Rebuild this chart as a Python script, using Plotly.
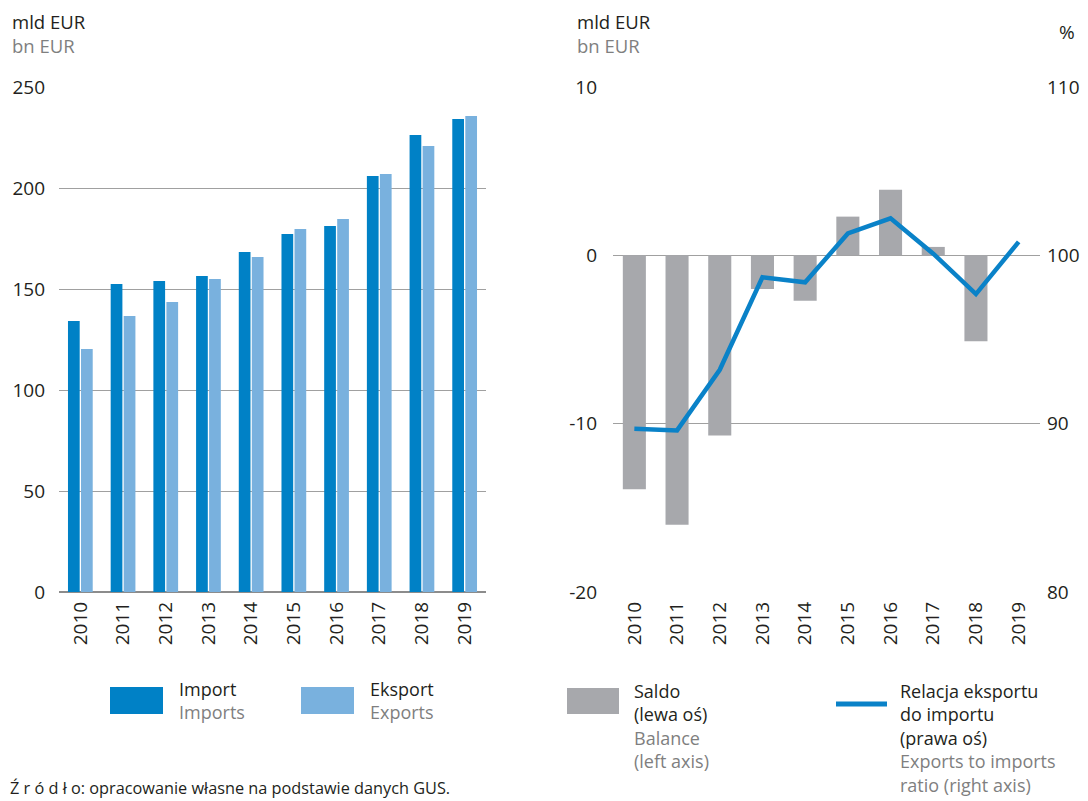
import plotly.graph_objects as go

years = ["2010", "2011", "2012", "2013", "2014", "2015", "2016", "2017", "2018", "2019"]
imports = [134.2, 152.5, 154.0, 156.4, 168.3, 177.2, 181.2, 205.9, 226.2, 234.2]
exports = [120.3, 136.6, 143.6, 155.0, 165.8, 179.7, 184.7, 206.9, 220.8, 235.6]
balance = [-13.9, -16.0, -10.7, -2.0, -2.7, 2.3, 3.9, 0.5, -5.1, None]
ratio = [89.7, 89.6, 93.2, 98.7, 98.4, 101.3, 102.2, 100.1, 97.7, 100.8]

left_ticks = [0, 50, 100, 150, 200, 250]
bal_ticks = [-20, -10, 0, 10]
bal_labels = ["-20", "-10", "0", "10"]
ratio_ticks = [80, 90, 100, 110]

C_IMP = "#0081C6"
C_EXP = "#79B1DE"
C_BAL = "#A7A8AC"
C_LINE = "#0A82C8"
DARK = "#231F20"
GRAY = "#7F7F7F"
GRID = "#A0A0A0"
FONT = "Open Sans"

# page body has an 8px margin: figure is drawn 8px smaller and offset
OFF = 8
W, H = 1088 - OFF, 801 - OFF

def fx(x):
    return (x - OFF) / W

def fy(y):
    return 1 - (y - OFF) / H

fig = go.Figure()
fig.add_trace(go.Bar(x=years, y=imports, marker_color=C_IMP, xaxis="x", yaxis="y",
                     name="Import", showlegend=False))
fig.add_trace(go.Bar(x=years, y=exports, marker_color=C_EXP, xaxis="x", yaxis="y",
                     name="Eksport", showlegend=False))
fig.add_trace(go.Bar(x=years, y=balance, marker_color=C_BAL, xaxis="x2", yaxis="y2",
                     width=0.54, name="Saldo", showlegend=False))
fig.add_trace(go.Scatter(x=years, y=ratio, mode="lines", xaxis="x2", yaxis="y3",
                         line=dict(color=C_LINE, width=4.5), name="Relacja",
                         showlegend=False))

ydom = [fy(592), fy(87)]
tickfont = dict(family=FONT, size=19, color=DARK)

fig.update_layout(
    template="none",
    width=W, height=H,
    margin=dict(l=0, r=0, t=0, b=0, pad=0, autoexpand=False),
    paper_bgcolor="white", plot_bgcolor="white",
    showlegend=False,
    barmode="group", bargap=0.39, bargroupgap=0.1,
    font=dict(family=FONT, color=DARK),
    xaxis=dict(domain=[fx(59), fx(486)], anchor="y", type="category",
               tickangle=-90, tickfont=tickfont, showgrid=False, ticks="",
               showline=False, ticklabelstandoff=5, automargin=False),
    yaxis=dict(domain=ydom, anchor="x", range=[0, 250], tickvals=left_ticks,
               showgrid=True, gridcolor=GRID, gridwidth=1, zeroline=True,
               zerolinecolor="#8C8C8C", zerolinewidth=1.5, tickfont=tickfont,
               ticks="", ticklabelstandoff=13, automargin=False),
    xaxis2=dict(domain=[fx(613), fx(1040)], anchor="y2", type="category",
                tickangle=-90, tickfont=tickfont, showgrid=False, ticks="",
                showline=False, ticklabelstandoff=5, automargin=False),
    yaxis2=dict(domain=ydom, anchor="x2", range=[-20, 10], tickvals=bal_ticks,
                ticktext=bal_labels,
                showgrid=True, gridcolor=GRID, gridwidth=1, zeroline=True,
                zerolinecolor=GRID, zerolinewidth=1, tickfont=tickfont,
                ticks="", ticklabelstandoff=15, automargin=False),
    yaxis3=dict(overlaying="y2", anchor="x2", side="right", range=[80, 110],
                tickvals=ratio_ticks, showgrid=False, zeroline=False,
                tickfont=tickfont, ticks="", ticklabelstandoff=6, automargin=False),
)

annos = []
def text(x, y, s, color=DARK, size=19, anchor="left"):
    annos.append(dict(x=fx(x), y=fy(y), xref="paper", yref="paper", text=s,
                      showarrow=False, xanchor=anchor, yanchor="middle", align="left",
                      font=dict(family=FONT, size=size, color=color)))

def block(x, yc, lines, size=18):
    s = "<br>".join(f"<span style='color:{c}'>{t}</span>" for t, c in lines)
    text(x, yc, s, DARK, size)

# axis unit titles
block(10, 33.5, [("mld EUR", DARK), ("bn EUR", GRAY)], size=18.5)
block(575, 33.5, [("mld EUR", DARK), ("bn EUR", GRAY)], size=18.5)
text(1077, 32, "%", anchor="right", size=19)

# legend left
block(177, 700, [("Import", DARK), ("Imports", GRAY)])
block(368, 700, [("Eksport", DARK), ("Exports", GRAY)])

# legend right
block(632, 726, [("Saldo", DARK), ("(lewa oś)", DARK), ("Balance", GRAY),
                 ("(left axis)", GRAY)])
block(898, 738, [("Relacja eksportu", DARK), ("do importu", DARK),
                 ("(prawa oś)", DARK), ("Exports to imports", GRAY),
                 ("ratio (right axis)", GRAY)])

# source
text(8, 788, "Ź r ó d ł o: opracowanie własne na podstawie danych GUS.", DARK, 16.3)

shapes = []
def rect(x0, ya, x1, yb, color):
    shapes.append(dict(type="rect", xref="paper", yref="paper", x0=fx(x0), y0=fy(yb),
                       x1=fx(x1), y1=fy(ya), fillcolor=color, line=dict(width=0)))

rect(110, 687, 163, 714, C_IMP)
rect(301, 687, 354, 714, C_EXP)
rect(567, 688, 619, 714, C_BAL)
shapes.append(dict(type="line", xref="paper", yref="paper", x0=fx(836), y0=fy(704),
                   x1=fx(887), y1=fy(704), line=dict(color=C_LINE, width=5)))

fig.update_layout(annotations=annos, shapes=shapes)
fig.write_html("out.html")
